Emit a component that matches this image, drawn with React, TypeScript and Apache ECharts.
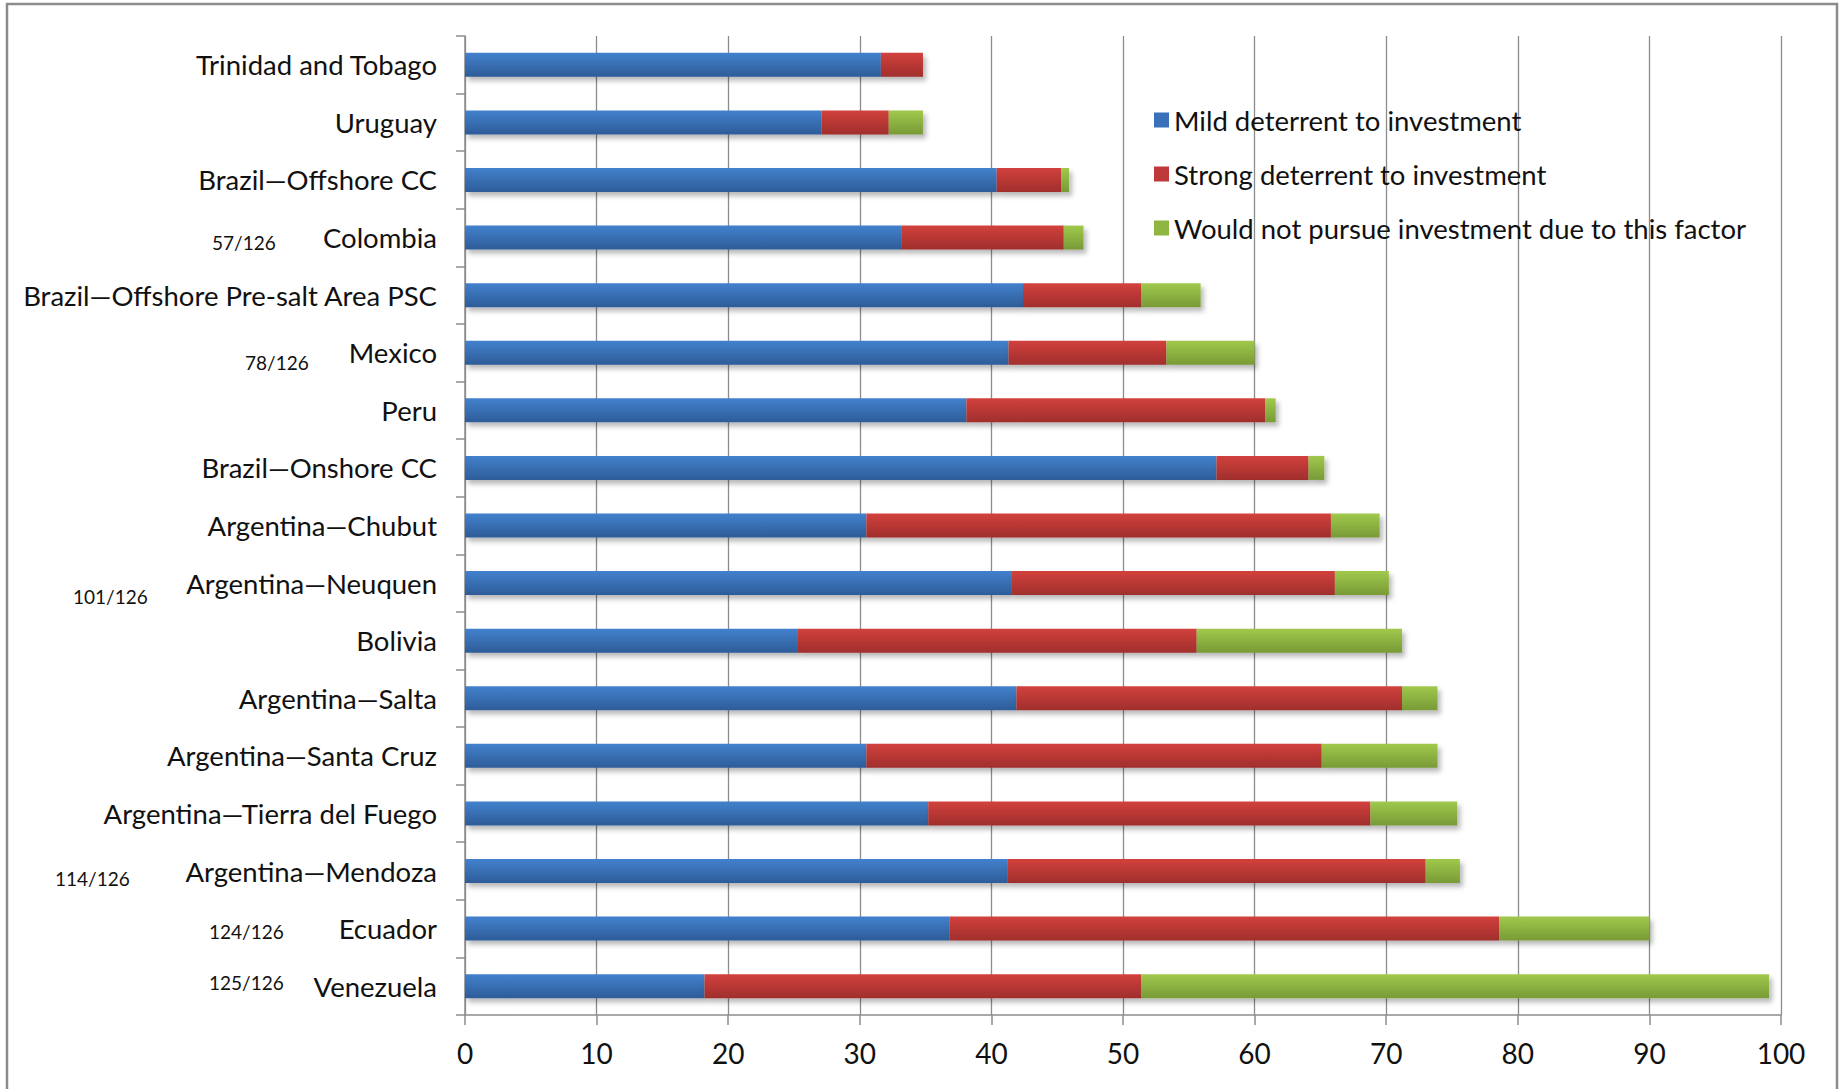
import React, { useEffect, useRef } from "react";
import * as echarts from "echarts";

const categories = [
  "Trinidad and Tobago",
  "Uruguay",
  "Brazil—Offshore CC",
  "Colombia",
  "Brazil—Offshore Pre-salt Area PSC",
  "Mexico",
  "Peru",
  "Brazil—Onshore CC",
  "Argentina—Chubut",
  "Argentina—Neuquen",
  "Bolivia",
  "Argentina—Salta",
  "Argentina—Santa Cruz",
  "Argentina—Tierra del Fuego",
  "Argentina—Mendoza",
  "Ecuador",
  "Venezuela",
];

const mild = [31.6, 27.1, 40.4, 33.2, 42.4, 41.3, 38.1, 57.1, 30.5, 41.5, 25.3, 41.9, 30.5, 35.2, 41.2, 36.8, 18.2];
const strong = [3.2, 5.1, 4.9, 12.3, 9.0, 12.0, 22.7, 7.0, 35.3, 24.6, 30.3, 29.3, 34.6, 33.6, 31.8, 41.8, 33.2];
const wouldNot = [0, 2.6, 0.6, 1.5, 4.5, 6.7, 0.8, 1.2, 3.7, 4.1, 15.6, 2.7, 8.8, 6.6, 2.6, 11.4, 47.7];

const seriesNames = [
  "Mild deterrent to investment",
  "Strong deterrent to investment",
  "Would not pursue investment due to this factor",
];

const xTicks = { min: 0, max: 100, interval: 10 };

const rankLabels = ["57/126", "78/126", "101/126", "114/126", "124/126", "125/126"];
const rankPositions = [
  { x: 212, y: 242 },
  { x: 245, y: 362 },
  { x: 73, y: 596 },
  { x: 55, y: 878 },
  { x: 209, y: 931 },
  { x: 209, y: 982 },
];

const FONT = "Lato, 'Open Sans', sans-serif";

function grad(top: string, bottom: string) {
  return new echarts.graphic.LinearGradient(0, 0, 0, 1, [
    { offset: 0, color: top },
    { offset: 1, color: bottom },
  ]);
}

export default function App() {
  const ref = useRef<HTMLDivElement>(null);

  useEffect(() => {
    if (!ref.current) return;
    const chart = echarts.init(ref.current, undefined, { renderer: "svg" });

    const shadow = {
      shadowColor: "rgba(0,0,0,0.28)",
      shadowBlur: 5,
      shadowOffsetX: 3,
      shadowOffsetY: 4,
    };

    const fills = [
      grad("#4381CD", "#2D5C98"),
      grad("#D2413D", "#A02E2C"),
      grad("#A0C94C", "#789A36"),
    ];
    const legendColors = ["#3A70B8", "#C0393A", "#8FB543"];
    const values = [mild, strong, wouldNot];

    chart.setOption({
      animation: false,
      backgroundColor: "#ffffff",
      textStyle: { fontFamily: FONT },
      grid: { left: 465, right: 65, top: 36, bottom: 74, containLabel: false },
      legend: {
        orient: "vertical",
        left: 1154,
        top: 106,
        padding: 0,
        itemWidth: 15,
        itemHeight: 15,
        itemGap: 26,
        icon: "rect",
        textStyle: { fontSize: 27.5, color: "#111", fontFamily: FONT },
        data: seriesNames.map((n, i) => ({
          name: n,
          itemStyle: { color: legendColors[i], shadowBlur: 0, shadowOffsetX: 0, shadowOffsetY: 0 },
        })),
      },
      xAxis: {
        type: "value",
        min: xTicks.min,
        max: xTicks.max,
        interval: xTicks.interval,
        axisLine: { show: true, lineStyle: { color: "#8c8c8c", width: 1.5 } },
        axisTick: { show: true, length: 10, lineStyle: { color: "#8c8c8c", width: 1.5 } },
        splitLine: { show: true, lineStyle: { color: "#8c8c8c", width: 1.3 } },
        axisLabel: { fontSize: 28, color: "#111", margin: 24, fontFamily: FONT },
      },
      yAxis: {
        type: "category",
        inverse: true,
        data: categories,
        axisLine: { show: true, lineStyle: { color: "#8c8c8c", width: 1.5 } },
        axisTick: { show: true, length: 9, lineStyle: { color: "#8c8c8c", width: 1.5 } },
        axisLabel: { fontSize: 27.5, color: "#111", margin: 28, fontFamily: FONT },
      },
      series: seriesNames.map((name, i) => ({
        name,
        type: "bar",
        stack: "total",
        barWidth: 24,
        data: values[i],
        itemStyle: { color: fills[i], ...shadow },
      })),
      graphic: rankLabels.map((t, i) => ({
        type: "text",
        x: rankPositions[i].x,
        y: rankPositions[i].y,
        style: {
          text: t,
          fontSize: 19,
          fontFamily: FONT,
          fill: "#111",
          align: "left",
          verticalAlign: "middle",
        },
      })).concat([
        {
          type: "rect",
          shape: { x: 7, y: 4, width: 1830, height: 1100 },
          style: { fill: "none", stroke: "#8c8c8c", lineWidth: 2.5 },
          silent: true,
        } as any,
      ]),
    });

    return () => chart.dispose();
  }, []);

  return (
    <div
      ref={ref}
      style={{ position: "absolute", left: 0, top: 0, width: 1846, height: 1089, background: "#fff" }}
    />
  );
}
